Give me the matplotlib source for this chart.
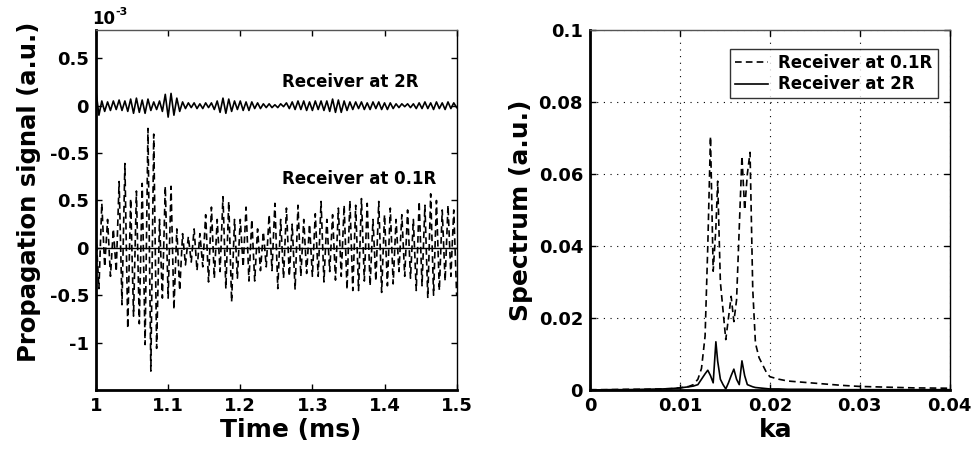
import numpy as np
import matplotlib
matplotlib.use("Agg")
import matplotlib.pyplot as plt

plt.rcParams['font.family'] = ['DejaVu Sans']
plt.rcParams['font.weight'] = 'bold'

# time signals (values in units of 1e-3), sampled every 0.004 ms from 1.0 to 1.5 ms
t_start, t_end = 1.0, 1.5
sig_01R = [
    0.15, -0.43, 0.47, -0.2, 0.3, -0.3, 0.2, -0.25, 0.7, -0.6,
    0.89, -0.85, 0.52, -0.72, 0.6, -0.8, 0.68, -1.02, 1.26, -1.3,
    1.2, -1.06, 0.3, -0.53, 0.65, -0.53, 0.65, -0.65, 0.2, -0.45,
    0.15, -0.18, 0.12, -0.15, 0.2, -0.24, 0.15, -0.2, 0.35, -0.36,
    0.43, -0.32, 0.3, -0.25, 0.54, -0.43, 0.49, -0.57, 0.3, -0.32,
    0.3, -0.2, 0.43, -0.35, 0.3, -0.35, 0.2, -0.24, 0.17, -0.2,
    0.35, -0.24, 0.47, -0.43, 0.3, -0.32, 0.42, -0.3, 0.25, -0.44,
    0.45, -0.3, 0.3, -0.27, 0.25, -0.3, 0.36, -0.3, 0.49, -0.36,
    0.3, -0.25, 0.35, -0.34, 0.42, -0.3, 0.45, -0.44, 0.5, -0.45,
    0.45, -0.45, 0.52, -0.35, 0.47, -0.4, 0.3, -0.35, 0.49, -0.47,
    0.35, -0.4, 0.42, -0.38, 0.3, -0.25, 0.35, -0.3, 0.4, -0.32,
    0.3, -0.45, 0.49, -0.4, 0.45, -0.53, 0.57, -0.5, 0.5, -0.45,
    0.4, -0.35, 0.45, -0.3, 0.4, -0.5,
]
sig_2R = [
    0.15, -0.1, 0.05, -0.06, 0.04, -0.05, 0.05, -0.04, 0.06, -0.05,
    0.05, -0.06, 0.07, -0.08, 0.08, -0.07, 0.06, -0.08, 0.07, -0.05,
    0.04, -0.04, 0.05, -0.06, 0.12, -0.12, 0.13, -0.1, 0.08, -0.06,
    0.04, -0.03, 0.03, -0.02, 0.03, -0.03, 0.02, -0.03, 0.03, -0.02,
    0.03, -0.04, 0.05, -0.07, 0.08, -0.08, 0.07, -0.06, 0.05, -0.04,
    0.05, -0.05, 0.04, -0.05, 0.04, -0.03, 0.03, -0.03, 0.02, -0.02,
    0.02, -0.02, 0.01, -0.02, 0.02, -0.01, 0.03, -0.03, 0.04, -0.04,
    0.05, -0.04, 0.05, -0.05, 0.04, -0.05, 0.05, -0.04, 0.05, -0.05,
    0.05, -0.06, 0.07, -0.07, 0.06, -0.07, 0.05, -0.05, 0.04, -0.04,
    0.04, -0.03, 0.04, -0.04, 0.03, -0.04, 0.04, -0.03, 0.04, -0.04,
    0.03, -0.04, 0.03, -0.03, 0.02, -0.02, 0.02, -0.01, 0.02, -0.02,
    0.02, -0.03, 0.03, -0.03, 0.04, -0.03, 0.03, -0.04, 0.04, -0.03,
    0.03, -0.04, 0.04, -0.03, 0.03, -0.02,
]
offset_2R = 1.5  # the 2R trace is shifted up in the plot (1e-3 units)

left_yticks = [-1, -0.5, 0, 0.5, 1.0, 1.5, 2.0]
left_yticklabels = ['-1', '-0.5', '0', '0.5', '-0.5', '0', '0.5']
left_xticks = [1, 1.1, 1.2, 1.3, 1.4, 1.5]
left_xticklabels = ['1', '1.1', '1.2', '1.3', '1.4', '1.5']

# spectra
ka = [0, 0.002, 0.004, 0.006, 0.008, 0.009, 0.010, 0.011, 0.0115, 0.012,
      0.0124, 0.0128, 0.0131, 0.0134, 0.0137, 0.0140, 0.0142, 0.0145, 0.0148, 0.0151,
      0.0154, 0.0157, 0.0160, 0.0163, 0.0166, 0.0169, 0.0172, 0.0175, 0.0178, 0.0181,
      0.0184, 0.0188, 0.0192, 0.0196, 0.020, 0.021, 0.022, 0.024, 0.026, 0.028,
      0.030, 0.033, 0.036, 0.040]
spec_01R = [0.0001, 0.0001, 0.0002, 0.0002, 0.0003, 0.0004, 0.0006, 0.001, 0.0015, 0.003,
            0.006, 0.015, 0.04, 0.0704, 0.033, 0.045, 0.058, 0.03, 0.022, 0.014,
            0.02, 0.026, 0.019, 0.025, 0.045, 0.065, 0.05, 0.06, 0.066, 0.028,
            0.013, 0.009, 0.007, 0.005, 0.0037, 0.003, 0.0025, 0.0021, 0.0017, 0.0013,
            0.001, 0.0008, 0.0006, 0.0005]
spec_2R = [0.0, 0.0001, 0.0001, 0.0002, 0.0003, 0.0004, 0.0006, 0.0009, 0.0011, 0.0015,
           0.003, 0.0045, 0.0055, 0.004, 0.002, 0.0134, 0.008, 0.003, 0.0015, 0.0003,
           0.002, 0.004, 0.0058, 0.003, 0.0015, 0.0081, 0.004, 0.0015, 0.0012, 0.0009,
           0.0007, 0.0006, 0.0005, 0.0004, 0.0003, 0.0003, 0.0002, 0.0002, 0.0001, 0.0001,
           0.0001, 0.0001, 0.0001, 0.0001]
right_xticks = [0, 0.01, 0.02, 0.03, 0.04]
right_xticklabels = ['0', '0.01', '0.02', '0.03', '0.04']
right_yticks = [0, 0.02, 0.04, 0.06, 0.08, 0.1]
right_yticklabels = ['0', '0.02', '0.04', '0.06', '0.08', '0.1']

dash = (0, (4, 2.5))


def style_axes(ax):
    ax.tick_params(direction='in', top=True, right=True, labelsize=13, length=4, width=1, pad=5)
    for lbl in ax.get_xticklabels() + ax.get_yticklabels():
        lbl.set_fontweight('bold')
    ax.spines['left'].set_linewidth(2)
    ax.spines['bottom'].set_linewidth(2)
    ax.spines['top'].set_linewidth(1)
    ax.spines['right'].set_linewidth(1)
    ax.spines['top'].set_color('#555555')


fig = plt.figure(figsize=(9.72, 4.53), dpi=100)

# left panel: propagation signals
ax1 = fig.add_axes([0.0988, 0.139, 0.371, 0.795])
t = np.linspace(t_start, t_end, len(sig_01R))
ax1.axhline(0, color='black', lw=1)
ax1.plot(t, np.array(sig_01R), color='black', lw=1.2, linestyle=dash)
ax1.plot(t, np.array(sig_2R) + offset_2R, color='black', lw=1.2)
ax1.set_xlim(1.0, 1.5)
ax1.set_ylim(-1.5, 2.3)
ax1.set_xticks(left_xticks)
ax1.set_xticklabels(left_xticklabels)
ax1.set_yticks(left_yticks)
ax1.set_yticklabels(left_yticklabels)
style_axes(ax1)
ax1.set_xlabel('Time (ms)', fontsize=18, fontweight='bold', labelpad=2)
ax1.set_ylabel('Propagation signal (a.u.)', fontsize=17.5, fontweight='bold', labelpad=6)
ax1.xaxis.label.set_x(0.54)
ax1.yaxis.label.set_y(0.55)
ax1.text(1.258, 1.75, 'Receiver at 2R', fontsize=12, fontweight='bold', va='center')
ax1.text(1.258, 0.73, 'Receiver at 0.1R', fontsize=12, fontweight='bold', va='center')
ax1.text(-0.01, 1.005, '10', transform=ax1.transAxes, fontsize=12, fontweight='bold', va='bottom')
ax1.text(0.055, 1.035, '-3', transform=ax1.transAxes, fontsize=8, fontweight='bold', va='bottom')

# right panel: spectra
ax2 = fig.add_axes([0.607, 0.139, 0.370, 0.795])
ax2.plot(ka, spec_01R, color='black', lw=1.2, linestyle=dash, label='Receiver at 0.1R')
ax2.plot(ka, spec_2R, color='black', lw=1.2, label='Receiver at 2R')
ax2.set_xlim(0, 0.04)
ax2.set_ylim(0, 0.1)
ax2.set_xticks(right_xticks)
ax2.set_xticklabels(right_xticklabels)
ax2.set_yticks(right_yticks)
ax2.set_yticklabels(right_yticklabels)
ax2.grid(True, color='black', linestyle=(0, (1, 5)), lw=0.8)
style_axes(ax2)
ax2.set_xlabel('ka', fontsize=18, fontweight='bold', labelpad=2)
ax2.set_ylabel('Spectrum (a.u.)', fontsize=18, fontweight='bold', labelpad=4)
ax2.xaxis.label.set_x(0.515)
leg = ax2.legend(loc='upper right', frameon=True, fancybox=False,
                 handlelength=2.0, borderpad=0.3, labelspacing=0.2, handletextpad=0.6,
                 bbox_to_anchor=(0.99, 0.97), prop={'weight': 'bold', 'size': 12})
leg.get_frame().set_edgecolor('black')
leg.get_frame().set_linewidth(1)

fig.savefig('out.png', dpi=100)
